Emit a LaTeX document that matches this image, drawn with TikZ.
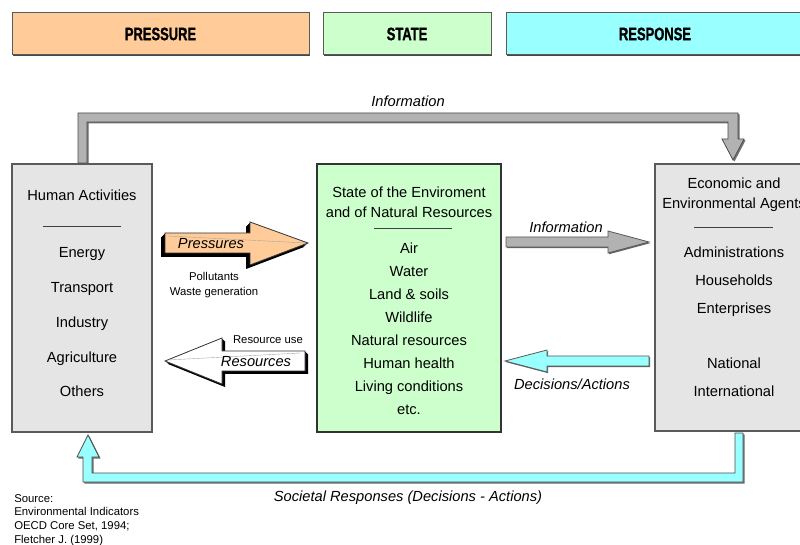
\documentclass[tikz,border=0pt]{standalone}
\usepackage{fontspec}
\setmainfont{Liberation Sans}
\newfontfamily\hdrfont[FakeStretch=0.72,FakeBold=1.2]{Liberation Sans}
\usetikzlibrary{fit,shadows}
\definecolor{pcol}{HTML}{FFCC99}
\definecolor{scol}{HTML}{CCFFCC}
\definecolor{rcol}{HTML}{99FFFF}
\definecolor{boxgray}{HTML}{E5E5E5}
\definecolor{arrgray}{HTML}{B2B2B2}
\definecolor{edgecol}{HTML}{5A5A5A}
\begin{document}
\begin{tikzpicture}[x=0.75pt,y=-0.75pt,
  hdrbox/.style={draw=edgecol, line width=0.75pt, inner sep=0pt,
    drop shadow={shadow xshift=0.6pt, shadow yshift=-1.1pt, fill=black!80, opacity=0.9}},
  hdrtxt/.style={font=\hdrfont\bfseries\fontsize{13.5}{15}\selectfont, inner sep=0pt},
  mainbox/.style={draw=edgecol, line width=1.1pt, inner sep=0pt},
  maintxt/.style={font=\fontsize{11}{13}\selectfont, anchor=mid, inner sep=0pt, yshift=-1.5pt},
  itltxt/.style={font=\fontsize{11}{13}\selectfont\itshape, anchor=mid, inner sep=0pt, yshift=-1.5pt},
  smalltxt/.style={font=\fontsize{8.5}{10}\selectfont, anchor=mid, inner sep=0pt, yshift=-1.2pt},
  srctxt/.style={font=\fontsize{8.5}{10}\selectfont, anchor=mid west, inner sep=0pt, yshift=-1.2pt},
  sepline/.style={draw=black!75, line width=0.75pt},
  blockarrow/.style={draw=black!80, line width=0.6pt, line join=miter},
  fineline/.style={draw=black!35, line width=0.3pt}
]
\clip (0,0) rectangle (800,545);
\fill[white] (0,0) rectangle (800,545);

% header boxes
\node[hdrbox, fill=pcol, fit={(12,13)(309,55)}] (pressure) {};
\node[hdrbox, fill=scol, fit={(323,13)(491,55)}] (statehdr) {};
\node[hdrbox, fill=rcol, fit={(506,13)(812,55)}] (response) {};
\node[hdrtxt] (pressuret) at (160.5,34) {PRESSURE};
\node[hdrtxt] (statet) at (407,34) {STATE};
\node[hdrtxt] (responset) at (655,34) {RESPONSE};

% top bent information arrow
\foreach \s in {1,1.5} {
  \fill[black!55, shift={(\s,\s)}] (78,163) -- (78,113) -- (738,113) -- (738,139) -- (744,139)
    -- (733,160) -- (722,139) -- (728,139) -- (728,122) -- (87,122) -- (87,163) -- cycle;
}
\filldraw[blockarrow, fill=arrgray, draw=black!70] (78,163) -- (78,113) -- (738,113) -- (738,139) -- (744,139)
  -- (733,160) -- (722,139) -- (728,139) -- (728,122) -- (87,122) -- (87,163) -- cycle;
\node[itltxt] (infotop) at (408,101) {Information};

% bottom bent societal arrow
\foreach \s in {1,1.5} {
  \fill[black!55, shift={(\s,\s)}] (735,433) -- (743,433) -- (743,482) -- (83,482) -- (83,457) -- (77,457)
    -- (88,435) -- (99,457) -- (92,457) -- (92,473) -- (735,473) -- cycle;
}
\filldraw[blockarrow, fill=rcol, draw=black!70] (735,433) -- (743,433) -- (743,482) -- (83,482) -- (83,457) -- (77,457)
  -- (88,435) -- (99,457) -- (92,457) -- (92,473) -- (735,473) -- cycle;
\node[itltxt] (societal) at (408,496) {Societal Responses (Decisions - Actions)};

% main boxes
\node[mainbox, fill=boxgray, fit={(12,164)(152,432)}] (human) {};
\node[mainbox, fill=scol, draw=black!80, line width=0.9pt, fit={(317,164)(501,432)}] (state) {};
\node[mainbox, fill=boxgray, fit={(655,164)(815,431)}] (agents) {};

% left box text
\node[maintxt] (ha) at (82,195) {Human Activities};
\draw[sepline] (43,227) -- (121,227);
\node[maintxt] (energy) at (82,252) {Energy};
\node[maintxt] (transport) at (82,287) {Transport};
\node[maintxt] (industry) at (82,322) {Industry};
\node[maintxt] (agri) at (82,357) {Agriculture};
\node[maintxt] (others) at (82,391) {Others};

% centre box text
\node[maintxt] (st1) at (409,192) {State of the Enviroment};
\node[maintxt] (st2) at (409,212) {and of Natural Resources};
\draw[sepline] (374,229) -- (452,229);
\node[maintxt] (air) at (409,248) {Air};
\node[maintxt] (water) at (409,271) {Water};
\node[maintxt] (land) at (409,294) {Land \& soils};
\node[maintxt] (wild) at (409,317) {Wildlife};
\node[maintxt] (natres) at (409,340) {Natural resources};
\node[maintxt] (health) at (409,363) {Human health};
\node[maintxt] (living) at (409,386) {Living conditions};
\node[maintxt] (etc) at (409,409) {etc.};

% right box text
\node[maintxt] (ea1) at (734,183) {Economic and};
\node[maintxt] (ea2) at (734,203) {Environmental Agents};
\draw[sepline] (694,228) -- (773,228);
\node[maintxt] (admin) at (734,252) {Administrations};
\node[maintxt] (house) at (734,280) {Households};
\node[maintxt] (enter) at (734,308) {Enterprises};
\node[maintxt] (national) at (734,363) {National};
\node[maintxt] (intl) at (734,391) {International};

% pressures arrow
\foreach \s in {1,2,3,4} {
  \fill[black, shift={(-\s,\s)}] (165,233) -- (250,233) -- (250,222) -- (308,243) -- (250,265) -- (250,253) -- (165,253) -- cycle;
}
\filldraw[blockarrow, fill=pcol] (165,233) -- (250,233) -- (250,222) -- (308,243) -- (250,265) -- (250,253) -- (165,253) -- cycle;
\draw[fineline] (168,236) -- (306,243);
\node[itltxt] (pressures) at (211,243) {Pressures};
\node[smalltxt] (poll) at (214,275) {Pollutants};
\node[smalltxt] (waste) at (214,290) {Waste generation};

% resources arrow
\foreach \s in {1,2,3} {
  \fill[black, shift={(\s,\s)}] (305,351) -- (222,351) -- (222,338) -- (165,361) -- (222,384) -- (222,371) -- (305,371) -- cycle;
}
\filldraw[blockarrow, fill=white] (305,351) -- (222,351) -- (222,338) -- (165,361) -- (222,384) -- (222,371) -- (305,371) -- cycle;
\draw[fineline] (168,360) -- (300,353);
\node[itltxt] (resources) at (256,361) {Resources};
\node[smalltxt] (resuse) at (268,338) {Resource use};

% information (middle) arrow
\fill[black!60, shift={(1.2,1.2)}] (506,237) -- (608,237) -- (608,231) -- (649,242) -- (608,253) -- (608,247) -- (506,247) -- cycle;
\filldraw[blockarrow, fill=arrgray, draw=black!65] (506,237) -- (608,237) -- (608,231) -- (649,242) -- (608,253) -- (608,247) -- (506,247) -- cycle;
\node[itltxt] (infomid) at (566,227) {Information};

% decisions arrow
\fill[black!60, shift={(1.2,1.2)}] (649,356) -- (547,356) -- (547,350) -- (505,361) -- (547,372) -- (547,366) -- (649,366) -- cycle;
\filldraw[blockarrow, fill=rcol, draw=black!65] (649,356) -- (547,356) -- (547,350) -- (505,361) -- (547,372) -- (547,366) -- (649,366) -- cycle;
\node[itltxt] (decisions) at (572,384) {Decisions/Actions};

% source
\node[srctxt] (src1) at (14,497) {Source:};
\node[srctxt] (src2) at (14,510.7) {Environmental Indicators};
\node[srctxt] (src3) at (14,524.3) {OECD Core Set, 1994;};
\node[srctxt] (src4) at (14,538) {Fletcher J. (1999)};
\end{tikzpicture}
\end{document}
